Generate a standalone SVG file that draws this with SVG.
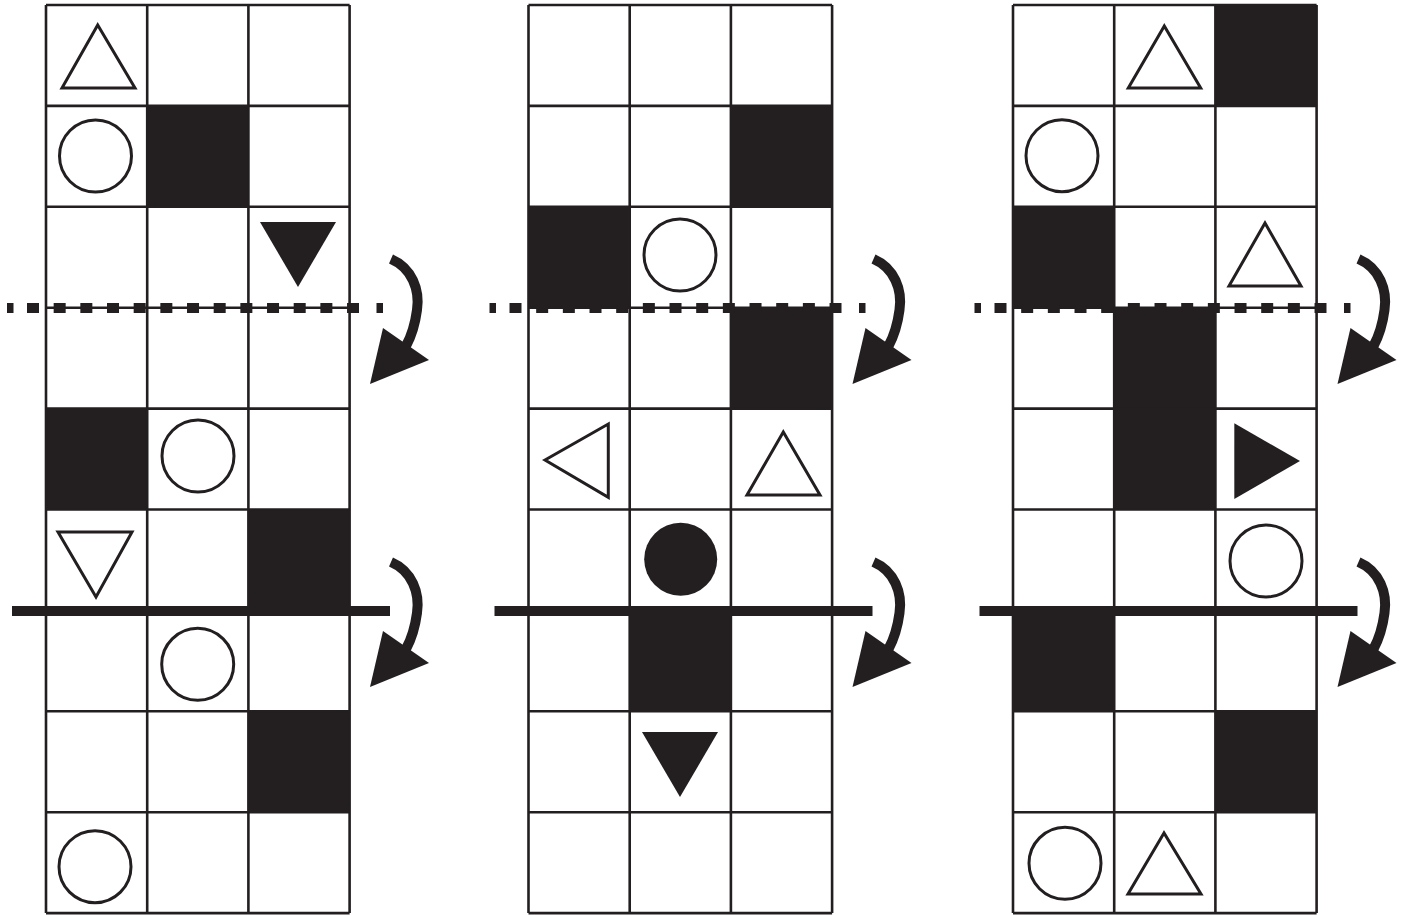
<svg xmlns="http://www.w3.org/2000/svg" width="1409" height="915" viewBox="0 0 1409 915">
<style>
.ln{stroke:#231f20;stroke-width:2.6;fill:none}
.blk{fill:#231f20}
.o{fill:#fff;stroke:#231f20;stroke-width:3}
.f{fill:#231f20}
.arc{fill:none;stroke:#231f20;stroke-width:10}
</style>
<defs>
<g id="gridlines" class="ln">
<line x1="0" y1="5" x2="0" y2="913.1"/>
<line x1="101.2" y1="5" x2="101.2" y2="913.1"/>
<line x1="202.4" y1="5" x2="202.4" y2="913.1"/>
<line x1="303.6" y1="5" x2="303.6" y2="913.1"/>
<line x1="0" y1="5" x2="303.6" y2="5"/>
<line x1="0" y1="105.9" x2="303.6" y2="105.9"/>
<line x1="0" y1="206.8" x2="303.6" y2="206.8"/>
<line x1="0" y1="307.7" x2="303.6" y2="307.7"/>
<line x1="0" y1="408.6" x2="303.6" y2="408.6"/>
<line x1="0" y1="509.5" x2="303.6" y2="509.5"/>
<line x1="0" y1="610.4" x2="303.6" y2="610.4"/>
<line x1="0" y1="711.3" x2="303.6" y2="711.3"/>
<line x1="0" y1="812.2" x2="303.6" y2="812.2"/>
<line x1="0" y1="913.1" x2="303.6" y2="913.1"/>
</g>
<g id="arrow">
<path class="arc" d="M391,259 C412,268 420,290 417,310 C415,325 412,335 406,346"/>
<polygon class="f" points="383,328 429,360 370,384"/>
</g>
<g id="marks">
<rect class="f" x="7" y="303" width="6.5" height="10"/>
<line x1="27" y1="308" x2="359" y2="308" stroke="#231f20" stroke-width="10" stroke-dasharray="12 14.67"/>
<rect class="f" x="376.5" y="303" width="6.5" height="10"/>
<rect class="f" x="12" y="606" width="378" height="10"/>
<use href="#arrow"/>
<use href="#arrow" y="303"/>
</g>
</defs>
<rect width="1409" height="915" fill="#fff"/>

<g id="grid1" transform="translate(46,0)">
<rect class="blk" x="101.2" y="105.9" width="101.2" height="100.9"/>
<rect class="blk" x="0" y="408.6" width="101.2" height="100.9"/>
<rect class="blk" x="202.4" y="509.5" width="101.2" height="100.9"/>
<rect class="blk" x="202.4" y="711.3" width="101.2" height="100.9"/>
<use href="#gridlines"/>
<polygon class="o" points="51.7,25 16,88 89,88"/>
<circle class="o" cx="49.5" cy="156" r="36"/>
<polygon class="f" points="214,222 290,222 252,287"/>
<circle class="o" cx="152" cy="456" r="36"/>
<polygon class="o" points="12,532 86,532 50,597"/>
<circle class="o" cx="151.7" cy="664.3" r="36"/>
<circle class="o" cx="49" cy="866.7" r="36"/>
</g>

<g id="grid2" transform="translate(528.5,0)">
<rect class="blk" x="202.4" y="105.9" width="101.2" height="100.9"/>
<rect class="blk" x="0" y="206.8" width="101.2" height="100.9"/>
<rect class="blk" x="202.4" y="307.7" width="101.2" height="100.9"/>
<rect class="blk" x="101.2" y="610.4" width="101.2" height="100.9"/>
<use href="#gridlines"/>
<circle class="o" cx="151.5" cy="255" r="36"/>
<polygon class="o" points="16.5,460 79.8,424 79.8,497.3"/>
<polygon class="o" points="254.8,432 218.5,495 291.5,495"/>
<circle class="f" cx="152.2" cy="559.3" r="36.5"/>
<polygon class="f" points="113.5,732 189.5,732 151.5,797"/>
</g>

<g id="grid3" transform="translate(1013,0)">
<rect class="blk" x="202.4" y="5" width="101.2" height="100.9"/>
<rect class="blk" x="0" y="206.8" width="101.2" height="100.9"/>
<rect class="blk" x="101.2" y="307.7" width="101.2" height="100.9"/>
<rect class="blk" x="101.2" y="408.6" width="101.2" height="100.9"/>
<rect class="blk" x="0" y="610.4" width="101.2" height="100.9"/>
<rect class="blk" x="202.4" y="711.3" width="101.2" height="100.9"/>
<use href="#gridlines"/>
<polygon class="o" points="151.3,26 115.3,88 187.7,88"/>
<circle class="o" cx="49" cy="155.7" r="36"/>
<polygon class="o" points="252,223 216,286 288,286"/>
<polygon class="f" points="221.3,423.3 221.3,499 287,461"/>
<circle class="o" cx="253" cy="561" r="36"/>
<circle class="o" cx="52" cy="863.3" r="36"/>
<polygon class="o" points="151,833 115,894 188,894"/>
</g>

<g id="connectors">
<use href="#marks"/>
<use href="#marks" x="482.5"/>
<use href="#marks" x="967.5"/>
</g>
</svg>
